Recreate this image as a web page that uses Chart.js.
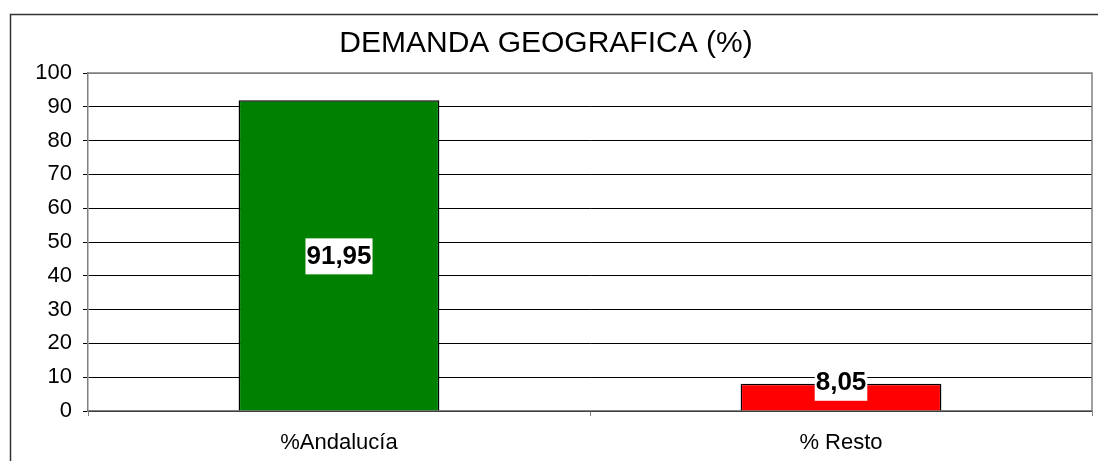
<!DOCTYPE html>
<html>
<head>
<meta charset="utf-8">
<script src="https://cdn.jsdelivr.net/npm/chart.js@4/dist/chart.umd.min.js"></script>
<style>
    html, body { margin: 0; padding: 0; background: #fff; overflow: hidden; }
    #wrap { width: 1098px; height: 461px; position: relative; }
</style>
</head>
<body>
<div id="wrap"><canvas id="myChart" width="1098" height="461"></canvas></div>
<script>
const categories = ['%Andalucía', '% Resto'];
const values = [91.95, 8.05];
const barColors = ['#008000', '#ff0000'];
const yTicks = [0, 10, 20, 30, 40, 50, 60, 70, 80, 90, 100];
const titleText = 'DEMANDA GEOGRAFICA (%)';

const fontFamily = '"Liberation Sans", Arial, sans-serif';

// marco exterior y borde del area de trazado
const framePlugin = {
    id: 'frame',
    beforeDraw(chart) {
        const ctx = chart.ctx;
        ctx.save();
        ctx.fillStyle = '#fff';
        ctx.fillRect(0, 0, chart.width, chart.height);
        ctx.strokeStyle = '#333';
        ctx.lineWidth = 1.5;
        ctx.strokeRect(10.5, 14.5, chart.width + 20, chart.height + 20);
        ctx.restore();
    },
    afterDraw(chart) {
        const a = chart.chartArea;
        const ctx = chart.ctx;
        ctx.save();
        ctx.strokeStyle = '#808080';
        ctx.lineWidth = 1.5;
        ctx.beginPath();
        ctx.moveTo(a.left, a.top);
        ctx.lineTo(a.right, a.top);
        ctx.lineTo(a.right, a.bottom);
        ctx.stroke();
        ctx.restore();
    }
};

// etiquetas de valor con fondo blanco
const valueLabels = {
    id: 'valueLabels',
    afterDatasetsDraw(chart) {
        const ctx = chart.ctx;
        const meta = chart.getDatasetMeta(0);
        ctx.save();
        ctx.font = 'bold 26px ' + fontFamily;
        ctx.textAlign = 'center';
        ctx.textBaseline = 'middle';
        meta.data.forEach((bar, i) => {
            const h = bar.base - bar.y;
            const cy = h > 40 ? bar.y + h / 2 : bar.y - 2;
            const txt = values[i].toFixed(2).replace('.', ',');
            const w = ctx.measureText(txt).width;
            ctx.fillStyle = '#fff';
            ctx.fillRect(bar.x - w / 2 - 1, cy - 17, w + 2, 36);
            ctx.fillStyle = '#000';
            ctx.fillText(txt, bar.x, cy + 1);
        });
        ctx.restore();
    }
};

new Chart(document.getElementById('myChart'), {
    type: 'bar',
    data: {
        labels: categories,
        datasets: [{
            data: values,
            backgroundColor: barColors,
            borderColor: '#000',
            borderWidth: 1.5,
            barPercentage: 0.4,
            categoryPercentage: 1
        }]
    },
    options: {
        responsive: false,
        animation: false,
        devicePixelRatio: 1,
        layout: { padding: { left: 0, right: 6, top: 0, bottom: 0 } },
        plugins: {
            legend: { display: false },
            tooltip: { enabled: false },
            title: {
                display: true,
                text: titleText,
                color: '#000',
                font: { family: fontFamily, size: 30, weight: 'normal' },
                padding: { top: 26, bottom: 11 }
            }
        },
        scales: {
            x: {
                afterFit: s => { s.height = 50; },
                grid: {
                    display: true,
                    drawOnChartArea: false,
                    offset: true,
                    tickLength: 5,
                    color: '#808080'
                },
                border: { color: '#808080', width: 1.5 },
                ticks: {
                    color: '#000',
                    padding: 14,
                    font: { family: fontFamily, size: 22 }
                }
            },
            y: {
                min: 0,
                max: 100,
                afterFit: s => { s.width = 88; },
                afterBuildTicks: s => { s.ticks = yTicks.map(v => ({ value: v })); },
                grid: {
                    color: ctx => ctx.tick && ctx.tick.value === 100 ? '#808080' : '#000',
                    tickColor: '#000',
                    tickLength: 5,
                    lineWidth: 1
                },
                border: { color: '#808080', width: 1.5 },
                ticks: {
                    color: '#000',
                    padding: 11,
                    font: { family: fontFamily, size: 22 }
                }
            }
        }
    },
    plugins: [framePlugin, valueLabels]
});
</script>
</body>
</html>
